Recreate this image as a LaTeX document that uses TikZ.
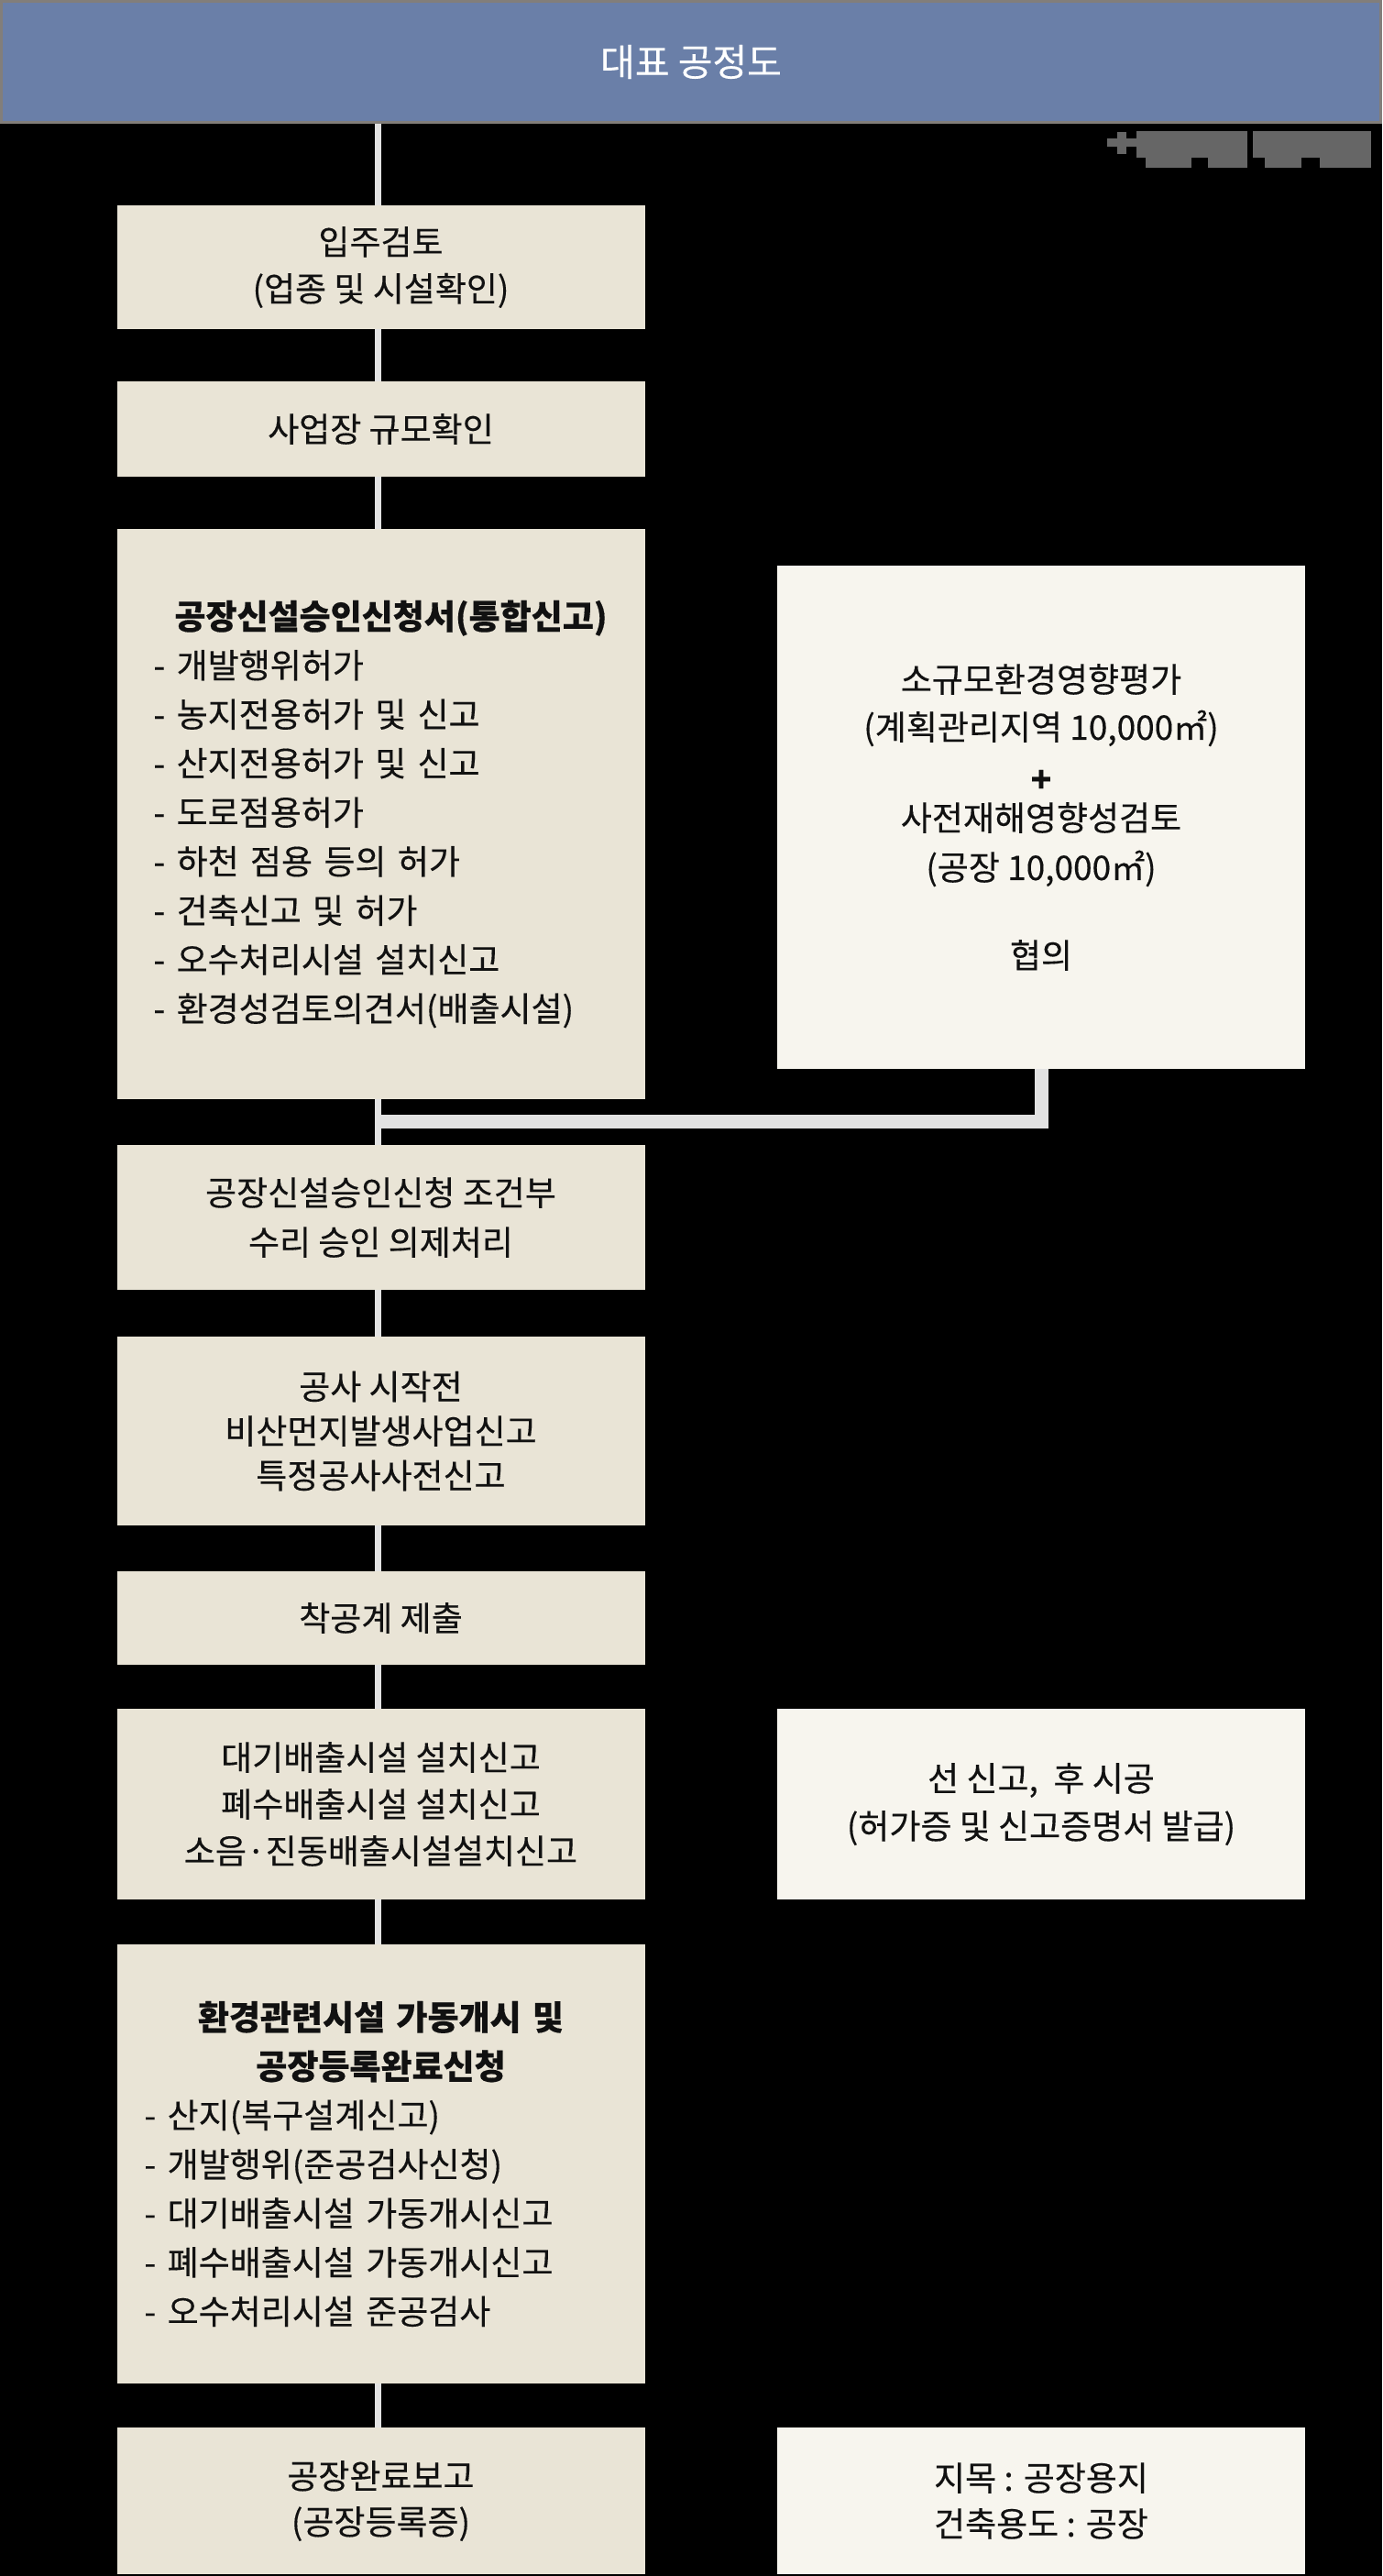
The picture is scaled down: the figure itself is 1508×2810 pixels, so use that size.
\documentclass[tikz,border=0pt]{standalone}
\usepackage{fontspec}
\setmainfont{Noto Sans CJK KR}[FakeBold=0.3]

\definecolor{hdrblue}{RGB}{106,127,168}
\definecolor{hdrframe}{RGB}{130,126,122}
\definecolor{stepfill}{RGB}{233,228,214}
\definecolor{notefill}{RGB}{247,245,238}
\definecolor{flowgray}{RGB}{226,226,226}
\definecolor{blurgray}{RGB}{102,102,102}
\definecolor{ink}{RGB}{17,17,17}

\tikzstyle{stepbox} = [fill=stepfill, text=ink, minimum width=576pt, inner sep=0pt, align=center, font=\fontsize{37}{51}\selectfont]
\tikzstyle{notebox} = [stepbox, fill=notefill]
\tikzstyle{listbox} = [stepbox, align=left, font=\fontsize{37}{53.5}\selectfont]
\tikzstyle{flowline} = [draw=flowgray, line width=7pt]
\tikzstyle{linkline} = [draw=flowgray, line width=15pt]

\begin{document}
\begin{tikzpicture}[x=1pt,y=-1pt]
		\fill[black] (0,0) rectangle (1508,2810); % Hintergrund
		\useasboundingbox (0,0) rectangle (1508,2810);
		\node (hdr) [fill=hdrblue, draw=hdrframe, line width=3pt, minimum width=1505pt, minimum height=132pt, text=white, font=\fontsize{41}{43}\selectfont] at (754,67.5) {대표 공정도};
		% unkenntlicher Hinweis oben rechts
		\fill[blurgray] (1208,151) rectangle (1240,160);
		\fill[blurgray] (1219,144) rectangle (1229,168);
		\fill[blurgray] (1240,143) rectangle (1361,172);
		\fill[blurgray] (1250,172) rectangle (1300,183);
		\fill[blurgray] (1318,172) rectangle (1361,183);
		\fill[blurgray] (1367,143) rectangle (1496,172);
		\fill[blurgray] (1380,172) rectangle (1420,183);
		\fill[blurgray] (1440,172) rectangle (1496,183);

		% Hauptschritte links
		\node (b1) [stepbox, minimum height=135pt] at (415.5,291.5) {입주검토\\(업종 및 시설확인)};
		\node (b2) [stepbox, minimum height=104pt] at (415.5,468) {사업장 규모확인};
		\node (b3) [listbox, text width=496pt, minimum height=622pt] at (415.5,888) {\hspace*{23pt}\textbf{공장신설승인신청서(통합신고)}\\- 개발행위허가\\- 농지전용허가 및 신고\\- 산지전용허가 및 신고\\- 도로점용허가\\- 하천 점용 등의 허가\\- 건축신고 및 허가\\- 오수처리시설 설치신고\\- 환경성검토의견서(배출시설)};
		\node (b4) [stepbox, minimum height=158pt, font=\fontsize{37}{54}\selectfont] at (415.5,1328) {공장신설승인신청 조건부\\수리 승인 의제처리};
		\node (b5) [stepbox, minimum height=206pt, font=\fontsize{37}{48.5}\selectfont] at (415.5,1561) {공사 시작전\\비산먼지발생사업신고\\특정공사사전신고};
		\node (b6) [stepbox, minimum height=102pt] at (415.5,1765) {착공계 제출};
		\node (b7) [stepbox, minimum height=208pt] at (415.5,1968) {대기배출시설 설치신고\\폐수배출시설 설치신고\\소음·진동배출시설설치신고};
		\node (b8) [listbox, text width=516pt, minimum height=479pt] at (415.5,2360.5) {\makebox[516pt]{\textbf{환경관련시설 가동개시 및}}\\\makebox[516pt]{\textbf{공장등록완료신청}}\\- 산지(복구설계신고)\\- 개발행위(준공검사신청)\\- 대기배출시설 가동개시신고\\- 폐수배출시설 가동개시신고\\- 오수처리시설 준공검사};
		\node (b9) [stepbox, minimum height=160pt, font=\fontsize{37}{50}\selectfont] at (415.5,2728) {공장완료보고\\(공장등록증)};

		% Nebenboxen rechts
		\node (r3) [notebox, minimum height=549pt] at (1136,891.5) {소규모환경영향평가\\[1pt](계획관리지역 10,000㎡)\\[6pt]\textbf{+}\\[-9pt]사전재해영향성검토\\[3pt](공장 10,000㎡)\\[45pt]협의};
		\node (r7) [notebox, minimum height=208pt, font=\fontsize{37}{52}\selectfont] at (1136,1968) {선 신고,~ 후 시공\\(허가증 및 신고증명서 발급)};
		\node (r9) [notebox, minimum height=160pt, font=\fontsize{37}{50}\selectfont] at (1136,2728) {지목 : 공장용지\\건축용도 : 공장};

		% Verbindungen
		\coordinate (joint) at (412,1223.5);
		\draw[linkline] (r3.south) |- (joint);
		\draw[flowline] ([xshift=-3.5pt]b1.north |- hdr.south) -- ([xshift=-3.5pt]b1.north);
		\foreach \a/\b in {b1/b2,b2/b3,b3/b4,b4/b5,b5/b6,b6/b7,b7/b8,b8/b9}
			\draw[flowline] ([xshift=-3.5pt]\a.south) -- ([xshift=-3.5pt]\b.north);
	\end{tikzpicture}
\end{document}
